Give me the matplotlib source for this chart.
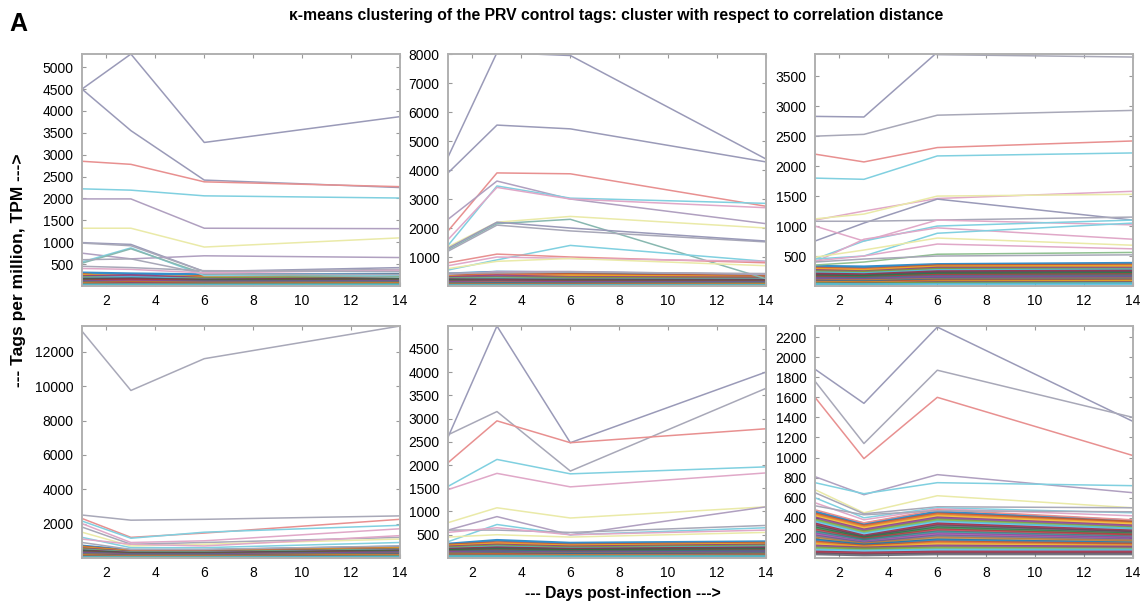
import numpy as np
import matplotlib
matplotlib.use("Agg")
import matplotlib.pyplot as plt

plt.rcParams['font.family'] = ['Liberation Sans', 'DejaVu Sans']

days = [1, 3, 6, 14]

# upper, clearly separated lines for each panel (values at days 1, 3, 6, 14)
p1_top = [[4500, 5300, 3280, 3870], [4500, 3550, 2420, 2250], [2850, 2780, 2380, 2270],
          [2220, 2190, 2060, 2010], [1990, 1990, 1320, 1310], [1320, 1320, 890, 1100],
          [990, 950, 330, 420], [980, 920, 330, 380], [750, 620, 690, 650],
          [550, 870, 240, 240], [520, 850, 280, 200], [600, 620, 280, 260],
          [400, 380, 300, 360], [450, 420, 350, 330]]
p2_top = [[4450, 8050, 7950, 4380], [3900, 5550, 5420, 4280], [1900, 3900, 3870, 2750],
          [2300, 3620, 3000, 2150], [1400, 3450, 3030, 2850], [1600, 3400, 3000, 2700],
          [1350, 2200, 2400, 2000], [1250, 2150, 2300, 250], [1200, 2100, 1900, 1520],
          [1300, 2200, 2000, 1550], [550, 900, 1400, 850], [800, 1100, 1000, 800],
          [700, 1000, 950, 850], [600, 850, 950, 700], [400, 500, 500, 400],
          [450, 450, 480, 430]]
p3_top = [[2830, 2820, 3900, 3880], [4000, 4100, 3860, 3820], [2500, 2530, 2850, 2930],
          [2200, 2070, 2310, 2420], [1800, 1780, 2170, 2220], [1100, 1250, 1460, 1580],
          [1120, 1200, 1500, 1530], [750, 1050, 1450, 1100], [1080, 1080, 1100, 1150],
          [1000, 750, 1100, 1020], [450, 750, 1000, 1100], [400, 780, 970, 780],
          [450, 500, 880, 1050], [480, 600, 800, 680], [420, 500, 700, 620],
          [350, 400, 530, 560], [400, 450, 500, 520]]
p4_top = [[13200, 9750, 11600, 13500], [2500, 2200, 2250, 2450], [2300, 1200, 1450, 2250],
          [2150, 1150, 1500, 1900], [2000, 900, 1000, 1700], [1800, 800, 900, 1200],
          [1500, 700, 800, 1100], [1200, 600, 600, 900], [900, 500, 500, 700],
          [1100, 800, 700, 1300]]
p5_top = [[2600, 4990, 2480, 4000], [2650, 3150, 1870, 3650], [2050, 2950, 2480, 2780],
          [1540, 2120, 1810, 1960], [1470, 1820, 1530, 1830], [760, 1080, 860, 1100],
          [600, 890, 500, 1100], [350, 720, 500, 650], [600, 600, 550, 700],
          [550, 650, 500, 600], [450, 500, 450, 550]]
p6_top = [[1880, 1540, 2300, 1360], [1760, 1140, 1870, 1400], [1600, 990, 1600, 1020],
          [810, 630, 830, 650], [750, 640, 750, 720], [680, 450, 620, 500],
          [650, 440, 510, 500], [600, 400, 500, 450], [550, 380, 490, 420],
          [480, 350, 480, 380], [520, 430, 470, 460]]

# dense bundle of low-expression tags near the bottom of each panel
p1_low = [[300, 280, 260, 270], [270, 150, 230, 250], [250, 230, 200, 210], [220, 240, 180, 190],
          [200, 180, 170, 200], [180, 200, 150, 160], [160, 150, 140, 170], [150, 170, 130, 150],
          [140, 120, 120, 140], [120, 140, 110, 120], [110, 100, 100, 110], [100, 110, 90, 100],
          [90, 80, 80, 90], [80, 90, 70, 80], [70, 60, 60, 70], [60, 70, 50, 60],
          [50, 40, 45, 50], [40, 50, 40, 40], [30, 30, 30, 35], [20, 25, 20, 25]]
p2_low = [[420, 480, 460, 380], [380, 420, 400, 350], [330, 300, 350, 300], [300, 350, 300, 280],
          [260, 280, 270, 240], [240, 250, 230, 220], [220, 200, 210, 200], [200, 220, 190, 180],
          [180, 160, 170, 160], [160, 180, 150, 150], [140, 140, 130, 130], [120, 130, 120, 110],
          [100, 100, 100, 100], [90, 110, 80, 90], [70, 80, 70, 70], [60, 60, 60, 60],
          [50, 50, 40, 50], [40, 40, 35, 30], [30, 30, 25, 25], [20, 20, 20, 20]]
p3_low = [[330, 320, 360, 380], [300, 280, 340, 350], [280, 260, 320, 330], [260, 240, 300, 300],
          [240, 230, 280, 280], [220, 210, 260, 270], [200, 190, 240, 250], [180, 170, 220, 230],
          [160, 160, 200, 210], [150, 140, 180, 190], [130, 130, 160, 170], [120, 110, 150, 150],
          [100, 100, 130, 140], [90, 90, 110, 120], [80, 70, 100, 100], [70, 60, 90, 90],
          [60, 50, 70, 80], [50, 40, 60, 60], [40, 35, 50, 50], [30, 25, 30, 40]]
p4_low = [[700, 450, 450, 650], [650, 400, 420, 600], [600, 380, 380, 550], [550, 350, 360, 500],
          [500, 320, 330, 480], [450, 300, 300, 450], [420, 280, 280, 420], [400, 260, 260, 400],
          [360, 240, 240, 380], [330, 220, 220, 350], [300, 200, 200, 320], [270, 180, 180, 300],
          [240, 160, 160, 260], [210, 140, 140, 230], [180, 120, 120, 200], [150, 100, 100, 170],
          [120, 80, 80, 140], [90, 60, 60, 110], [60, 40, 40, 80], [30, 20, 20, 50]]
p5_low = [[300, 380, 320, 350], [280, 330, 280, 320], [260, 300, 260, 300], [240, 280, 240, 280],
          [220, 260, 220, 260], [200, 240, 200, 240], [190, 220, 190, 220], [170, 200, 170, 200],
          [160, 180, 160, 180], [140, 160, 140, 160], [130, 150, 130, 150], [120, 130, 110, 130],
          [100, 120, 100, 120], [90, 100, 90, 100], [80, 90, 80, 90], [70, 80, 60, 70],
          [60, 60, 50, 60], [50, 50, 40, 50], [40, 40, 30, 40], [30, 30, 25, 30]]
p6_low = [[460, 340, 460, 370], [440, 320, 440, 360], [420, 300, 420, 340], [400, 280, 400, 320],
          [380, 260, 380, 300], [360, 240, 360, 290], [340, 220, 340, 270], [320, 210, 320, 260],
          [300, 200, 300, 240], [280, 190, 280, 230], [260, 180, 260, 210], [240, 160, 240, 200],
          [220, 150, 220, 180], [200, 140, 200, 170], [180, 130, 180, 150], [160, 120, 160, 140],
          [140, 110, 140, 120], [120, 100, 120, 110], [100, 90, 100, 90], [80, 70, 80, 80],
          [60, 50, 60, 60], [40, 30, 40, 40]]

ylims = [5300, 8000, 3870, 13500, 4990, 2310]
ytick_sets = [np.arange(500, 5001, 500), np.arange(1000, 8001, 1000), np.arange(500, 3501, 500),
              np.arange(2000, 12001, 2000), np.arange(500, 4501, 500), np.arange(200, 2201, 200)]

# pastel colours of the separated lines
GB, GR, RD, CY, PG = '#9a9ab8', '#a8a8b8', '#e89090', '#80d0e0', '#b0a0c0'
YL, PK, TL, GN = '#eaeaa8', '#e0a8c8', '#88b8b0', '#90c090'
top_colors = [
    [GB, GB, RD, CY, PG, YL, GB, GR, PG, CY, TL, GR, PK, GR],
    [GB, GB, RD, PG, CY, PK, YL, TL, GR, GB, CY, RD, PK, YL, PG, GR],
    [GB, GR, GR, RD, CY, PK, YL, GB, GR, PK, CY, PK, CY, YL, PK, GN, GR],
    [GR, GR, RD, CY, PK, GR, YL, CY, GR, PK],
    [GB, GR, RD, CY, PK, YL, PG, CY, GR, PK, YL],
    [GB, GR, RD, PG, CY, YL, GR, CY, PK, RD, GR],
]
low_colors = ['#0072BD', '#D95319', '#EDB120', '#7E2F8E', '#77AC30', '#4DBEEE', '#A2142F',
              '#505060', '#208040', '#c03040', '#208888', '#a040a0', '#606090', '#c08030']

fig = plt.figure(figsize=(11.45, 6.04), dpi=100)
lefts = [0.0716, 0.3913, 0.7118]
bottoms = [0.5265, 0.0762]
w, h = 0.2777, 0.384

tops = [p1_top, p2_top, p3_top, p4_top, p5_top, p6_top]
lows = [p1_low, p2_low, p3_low, p4_low, p5_low, p6_low]

for k in range(6):
    ax = fig.add_axes([lefts[k % 3], bottoms[k // 3], w, h])
    for i, line in enumerate(lows[k]):
        ax.plot(days, line, color=low_colors[i % len(low_colors)], lw=2.0, alpha=0.8)
    for i, line in enumerate(tops[k]):
        ax.plot(days, line, color=top_colors[k][i], lw=1.1)
    ax.set_xlim(1, 14)
    ax.set_ylim(0, ylims[k])
    ax.set_xticks(np.arange(2, 15, 2))
    ax.set_yticks(ytick_sets[k])
    ax.tick_params(direction='in', top=True, right=True, length=3, width=0.8,
                   color='#999999', labelsize=10, pad=6)
    for sp in ax.spines.values():
        sp.set_color('#b0b0b0')
        sp.set_linewidth(1.4)

fig.text(0.008, 0.960, 'A', fontsize=18, fontweight='bold', va='center')
fig.text(0.538, 0.975, '\u03ba-means clustering of the PRV control tags: cluster with respect to correlation distance',
         fontsize=11.3, fontweight='bold', ha='center', va='center')
fig.text(0.016, 0.553, '--- Tags per million, TPM --->', fontsize=12.5, fontweight='bold',
         rotation=90, ha='center', va='center')
fig.text(0.544, 0.018, '--- Days post-infection --->', fontsize=11.3, fontweight='bold',
         ha='center', va='center')

fig.savefig('out.png', dpi=100)
